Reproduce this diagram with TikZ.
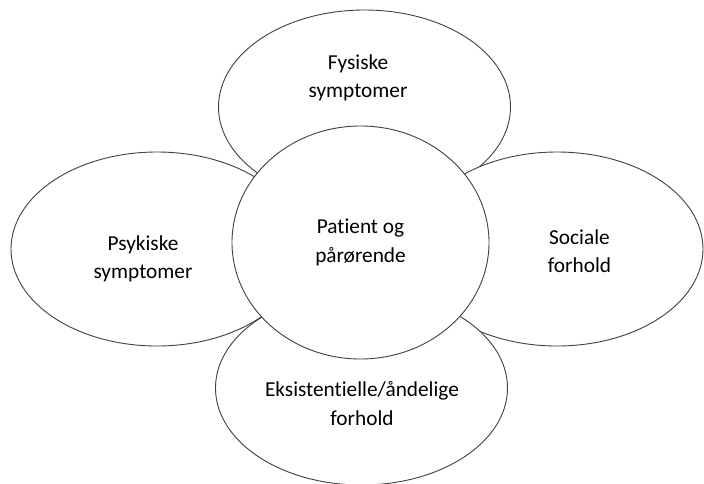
\documentclass[tikz,border=0pt]{standalone}
\usepackage{fontspec}
\setmainfont{Carlito}[Ligatures={NoCommon}]
\usetikzlibrary{shapes.geometric}

\begin{document}
\begin{tikzpicture}[x=1pt,y=-1pt,
    blob/.style={ellipse,draw=black!75,line width=0.9pt,fill=white,
      minimum width=292pt,minimum height=194pt,inner sep=0pt},
    kerne/.style={blob,minimum width=257pt,minimum height=233pt},
    tekst/.style={align=center,font=\fontsize{21.3}{28.5}\selectfont}]
    \useasboundingbox (0,0) rectangle (704,483);
    \node[blob] (fys)  at (364.5,107) {};
    \node[blob] (psyk) at (157,249)   {};
    \node[blob] (soc)  at (557,249)   {};
    \node[blob] (eks)  at (361.5,388) {};
    \node[kerne,tekst] (pat) at (360.5,242.5) {Patient og\\pårørende};
    \node[tekst] (fys_t)  at (358,78)    {Fysiske\\symptomer};
    \node[tekst] (psyk_t) at (143,259)   {Psykiske\\symptomer};
    \node[tekst] (soc_t)  at (579.5,251) {Sociale\\forhold};
    \node[tekst] (eks_t)  at (362,403.5) {Eksistentielle/åndelige\\forhold};
  \end{tikzpicture}
\end{document}
